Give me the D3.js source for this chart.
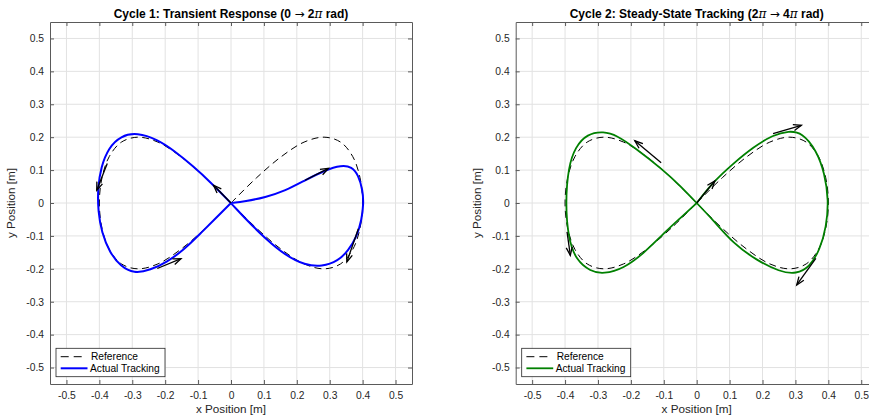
<!DOCTYPE html>
<html><head><meta charset="utf-8">
<script src="https://cdn.jsdelivr.net/npm/d3@7"></script>
<style>body{margin:0;background:#fff}svg{display:block;font-family:"Liberation Sans",Arial,Helvetica,sans-serif}</style>
</head><body><svg id="c" width="869" height="420"></svg>
<script>
// ---- data ----
const titles = ["Cycle 1: Transient Response (0 \u2192 2\u03c0 rad)", "Cycle 2: Steady-State Tracking (2\u03c0 \u2192 4\u03c0 rad)"];
const tickValues = [-0.5,-0.4,-0.3,-0.2,-0.1,0,0.1,0.2,0.3,0.4,0.5];
const tickLabels = ["-0.5","-0.4","-0.3","-0.2","-0.1","0","0.1","0.2","0.3","0.4","0.5"];
const legendLabels = ["Reference","Actual Tracking"];
// reference figure-eight (x, y)
const refX = [0,0.078,0.153,0.222,0.283,0.333,0.370,0.392,0.4,0.392,0.370,0.333,0.283,0.222,0.153,0.078,0,
  -0.078,-0.153,-0.222,-0.283,-0.333,-0.370,-0.392,-0.4,-0.392,-0.370,-0.333,-0.283,-0.222,-0.153,-0.078,0];
const refY = [0,0.077,0.141,0.185,0.2,0.185,0.141,0.077,0,-0.077,-0.141,-0.185,-0.2,-0.185,-0.141,-0.077,0,
  0.077,0.141,0.185,0.2,0.185,0.141,0.077,0,-0.077,-0.141,-0.185,-0.2,-0.185,-0.141,-0.077,0];
// cycle 1 actual tracking
const c1X = [0,0.043,0.104,0.165,0.225,0.286,0.336,0.367,0.387,0.400,0.403,0.397,0.382,0.356,0.326,0.276,0.225,0.165,0.104,0.043,0,
  -0.063,-0.113,-0.174,-0.224,-0.285,-0.335,-0.372,-0.395,-0.405,-0.404,-0.393,-0.369,-0.335,-0.295,-0.245,-0.194,-0.144,-0.093,-0.042,0];
const c1Y = [0,0.005,0.017,0.037,0.069,0.100,0.115,0.110,0.085,0.039,0.000,-0.052,-0.103,-0.145,-0.176,-0.194,-0.189,-0.159,-0.108,-0.047,0,
  0.064,0.110,0.160,0.193,0.214,0.204,0.168,0.110,0.045,-0.025,-0.090,-0.150,-0.193,-0.214,-0.204,-0.179,-0.143,-0.093,-0.042,0];
// cycle 2 actual tracking
const c2X = [0,0.050,0.111,0.172,0.232,0.280,0.320,0.364,0.389,0.401,0.394,0.374,0.343,0.303,0.252,0.182,0.111,0.050,0,
  -0.050,-0.101,-0.192,-0.242,-0.283,-0.333,-0.369,-0.390,-0.399,-0.390,-0.366,-0.323,-0.283,-0.222,-0.162,-0.101,-0.051,0];
const c2Y = [0,0.064,0.120,0.170,0.207,0.219,0.214,0.160,0.090,0.008,-0.073,-0.143,-0.194,-0.216,-0.209,-0.174,-0.123,-0.052,0,
  0.052,0.100,0.171,0.205,0.218,0.210,0.170,0.110,0,-0.110,-0.174,-0.208,-0.216,-0.199,-0.154,-0.093,-0.047,0];
// direction arrows: tail (x0,y0) -> head (x1,y1)
const arr1X0 = [0,-0.376,-0.224,0.225,0.387];
const arr1Y0 = [0,0.120,-0.199,0.069,-0.078];
const arr1X1 = [-0.053,-0.408,-0.152,0.296,0.352];
const arr1Y1 = [0.054,0.039,-0.169,0.105,-0.179];
const arr2X0 = [0,0.232,-0.108,-0.394,0.362];
const arr2Y0 = [0,0.211,0.122,-0.088,-0.168];
const arr2X1 = [0.055,0.318,-0.188,-0.384,0.304];
const arr2Y1 = [0.067,0.236,0.189,-0.159,-0.249];

const panels = [
  {left:50, title:titles[0], color:"#0000ff", width:2, ax:c1X, ay:c1Y, a:[arr1X0,arr1Y0,arr1X1,arr1Y1]},
  {left:515.7, title:titles[1], color:"#008000", width:1.8, ax:c2X, ay:c2Y, a:[arr2X0,arr2Y0,arr2X1,arr2Y1]}
];
const svg = d3.select("#c");
const W = 362, H = 362, topY = 22;
const axisColor = "#262626";

panels.forEach(p => {
  const x = d3.scaleLinear().domain([-0.55,0.55]).range([p.left, p.left+W]);
  const y = d3.scaleLinear().domain([-0.55,0.55]).range([topY+H, topY]);
  const g = svg.append("g");
  // grid
  g.selectAll("line.gx").data(tickValues).join("line")
    .attr("x1", d=>x(d)).attr("x2", d=>x(d)).attr("y1", topY).attr("y2", topY+H)
    .attr("stroke", "#e2e2e2").attr("stroke-width", 1);
  g.selectAll("line.gy").data(tickValues).join("line")
    .attr("y1", d=>y(d)).attr("y2", d=>y(d)).attr("x1", p.left).attr("x2", p.left+W)
    .attr("stroke", "#e2e2e2").attr("stroke-width", 1);
  const fmt = d => tickLabels[tickValues.indexOf(d)];
  const styleAxis = sel => {
    sel.select(".domain").attr("stroke", "#5a5a5a").attr("stroke-width", 1);
    sel.selectAll(".tick line").attr("stroke", "#5a5a5a");
    sel.selectAll("text").attr("fill", axisColor).style("font-size", "10.3px").style("font-family", "'Liberation Sans',Arial,sans-serif");
  };
  g.append("g").attr("transform", `translate(0,${topY+H})`)
    .call(d3.axisBottom(x).tickValues(tickValues).tickFormat(fmt).tickSize(-4).tickSizeOuter(0).tickPadding(8)).call(styleAxis);
  g.append("g").attr("transform", `translate(0,${topY})`)
    .call(d3.axisTop(x).tickValues(tickValues).tickFormat("").tickSize(-4).tickSizeOuter(0)).call(styleAxis);
  g.append("g").attr("transform", `translate(${p.left},0)`)
    .call(d3.axisLeft(y).tickValues(tickValues).tickFormat(fmt).tickSize(-4).tickSizeOuter(0).tickPadding(6)).call(styleAxis);
  g.append("g").attr("transform", `translate(${p.left+W},0)`)
    .call(d3.axisRight(y).tickValues(tickValues).tickFormat("").tickSize(-4).tickSizeOuter(0)).call(styleAxis);

  const refLine = d3.line().x(d=>x(d[0])).y(d=>y(d[1])).curve(d3.curveCatmullRom.alpha(0.5));
  const actLine = d3.line().x(d=>x(d[0])).y(d=>y(d[1])).curve(d3.curveBasis);
  g.append("path").attr("d", refLine(refX.map((v,i)=>[v,refY[i]])))
    .attr("fill","none").attr("stroke","#000").attr("stroke-width",1).attr("stroke-dasharray","7,4.5");
  g.append("path").attr("d", actLine(p.ax.map((v,i)=>[v,p.ay[i]])))
    .attr("fill","none").attr("stroke",p.color).attr("stroke-width",p.width);
  // arrows
  const [X0,Y0,X1,Y1] = p.a;
  X0.forEach((_,i) => {
    const x0=x(X0[i]), y0=y(Y0[i]), x1=x(X1[i]), y1=y(Y1[i]);
    const ang = Math.atan2(y1-y0, x1-x0), hl = 8, hw = 3;
    const bx = x1 - hl*Math.cos(ang), by = y1 - hl*Math.sin(ang);
    const nx = -Math.sin(ang), ny = Math.cos(ang);
    g.append("line").attr("x1",x0).attr("y1",y0).attr("x2",x1).attr("y2",y1)
      .attr("stroke","#000").attr("stroke-width",1.3);
    g.append("path").attr("d", `M${bx+nx*hw},${by+ny*hw}L${x1},${y1}L${bx-nx*hw},${by-ny*hw}`)
      .attr("fill","none").attr("stroke","#000").attr("stroke-width",1.3).attr("stroke-linejoin","miter");
  });
  // title (pi in italic, arrow from DejaVu Sans) & labels
  const t = g.append("text").attr("x", p.left+W/2).attr("y", 18.3).attr("text-anchor","middle")
    .style("font-size","12px").style("font-weight","bold").attr("fill","#000");
  p.title.split(/([\u03c0\u2192])/).forEach(part => {
    if (!part) return;
    const ts = t.append("tspan").text(part);
    if (part === "\u03c0") ts.style("font-style","italic").style("font-weight","normal").style("font-family","'DejaVu Serif',serif");
    if (part === "\u2192") ts.style("font-weight","normal").style("font-family","'DejaVu Sans',sans-serif");
  });
  g.append("text").attr("x", p.left+W/2).attr("y", 413).attr("text-anchor","middle")
    .style("font-size","11.7px").attr("fill",axisColor).text("x Position [m]");
  g.append("text").attr("transform", `translate(${p.left-35},${topY+H/2}) rotate(-90)`).attr("text-anchor","middle")
    .style("font-size","11.7px").attr("fill",axisColor).text("y Position [m]");
  // legend
  const lx = p.left+6, ly = 348.3, lw = 109, lh = 28.4;
  g.append("rect").attr("x",lx).attr("y",ly).attr("width",lw).attr("height",lh)
    .attr("fill","#fff").attr("stroke",axisColor).attr("stroke-width",0.8);
  g.append("line").attr("x1",lx+4.7).attr("x2",lx+30.7).attr("y1",ly+8.4).attr("y2",ly+8.4)
    .attr("stroke","#000").attr("stroke-width",1).attr("stroke-dasharray","8,5");
  g.append("line").attr("x1",lx+4.7).attr("x2",lx+31.5).attr("y1",ly+20).attr("y2",ly+20)
    .attr("stroke",p.color).attr("stroke-width",p.width);
  g.append("text").attr("x",lx+35).attr("y",ly+11.8).style("font-size","10.2px").attr("fill","#000").text(legendLabels[0]);
  g.append("text").attr("x",lx+34).attr("y",ly+23.4).style("font-size","10.2px").attr("fill","#000").text(legendLabels[1]);
});
</script></body></html>
